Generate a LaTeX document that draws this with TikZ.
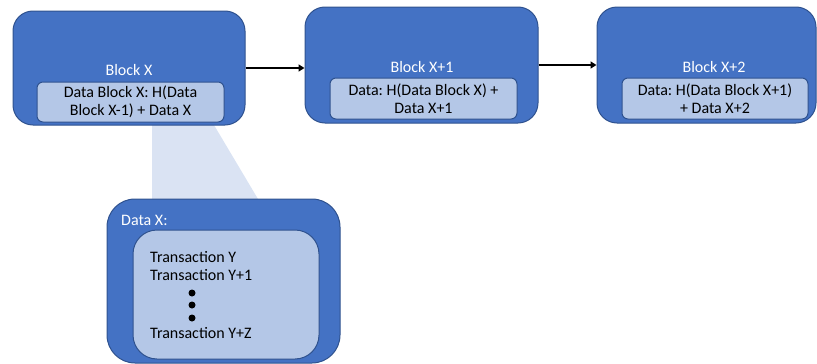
\documentclass[tikz,border=0pt]{standalone}
\usepackage{fontspec}
\setmainfont{Carlito}
\usetikzlibrary{arrows.meta}
\frenchspacing

\definecolor{blockblue}{HTML}{4472C4}
\definecolor{blockedge}{HTML}{2F528F}
\definecolor{datablue}{HTML}{B4C7E7}
\definecolor{zoomblue}{HTML}{DAE3F3}

\begin{document}
\begin{tikzpicture}[x=1pt, y=-1pt,
	font=\fontsize{16}{18.5}\selectfont,
	outer/.style={draw=blockedge, line width=1pt, fill=blockblue, rounded corners=20pt, inner sep=0pt},
	inner/.style={draw=blockedge, line width=1pt, fill=datablue, rounded corners=6pt, inner sep=0pt, align=center},
	title/.style={text=white, inner sep=0pt},
	arr/.style={line width=1.6pt, -{Triangle[length=6pt,width=7pt]}}]
	\useasboundingbox (0,0) rectangle (817,364);

	% zoom wedge under the first block
	\fill [zoomblue] (152,120) -- (211,120) -- (258,199) -- (152,199) -- cycle;

	% the three blocks
	\node[outer, minimum width=232pt, minimum height=114pt] (blockx) at (129,68) {};
	\node[outer, minimum width=233pt, minimum height=116pt] (blockx1) at (421.5,65) {};
	\node[outer, minimum width=219pt, minimum height=116pt] (blockx2) at (706.5,65) {};

	\node[inner, minimum width=187pt, minimum height=40pt] (datax) at (130.5,102) {Data Block X: H(Data\\Block X-1) + Data X};
	\node[inner, minimum width=187pt, minimum height=41pt] (datax1) at (423.5,98.5) {Data: H(Data Block X) +\\Data X+1};
	\node[inner, minimum width=186pt, minimum height=41pt] (datax2) at (715,98.5) {Data: H(Data Block X+1)\\+ Data X+2};

	\node[title] (titlex) at (129,70) {Block X};
	\node[title] (titlex1) at (422,67) {Block X+1};
	\node[title] (titlex2) at (714,67) {Block X+2};

	\draw[arr] (blockx.east) -- (blockx.east -| blockx1.west);
	\draw[arr] (blockx1.east) -- (blockx2.west);

	% the data of block X
	\node[outer, rounded corners=28pt, minimum width=233pt, minimum height=164pt] (txbox) at (223.5,281) {};
	\node[inner, rounded corners=24pt, minimum width=186pt, minimum height=129pt] (txlist) at (226,294.5) {};
	\node[title, anchor=west] (txtitle) at (121,220) {Data X:};

	\node[anchor=west, inner sep=0pt] (tx0) at (150,257) {Transaction Y};
	\node[anchor=west, inner sep=0pt] (tx1) at (150,275) {Transaction Y+1};
	\foreach \y [count=\i] in {293,305,318}
		\node[circle, fill=black, inner sep=0pt, minimum size=7pt] (dot\i) at (192,\y) {};
	\node[anchor=west, inner sep=0pt] (txz) at (150,333) {Transaction Y+Z};
\end{tikzpicture}
\end{document}
